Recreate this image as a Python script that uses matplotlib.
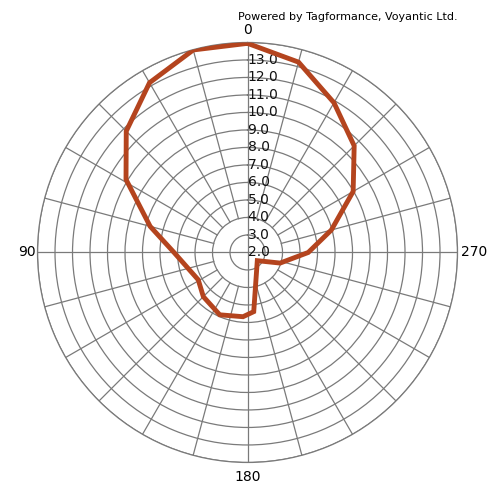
import numpy as np
import matplotlib.pyplot as plt

# 读数: 角度(度, 逆时针, 0在上方) 和 半径
angles = [0, 15, 30, 45, 59, 75, 90, 119, 135, 156, 176, 186, 230, 252, 270, 285, 300, 315, 330, 345, 360]
radius = [13.95, 13.98, 13.2, 11.8, 10.1, 7.76, 6.2, 5.22, 5.57, 5.9, 5.68, 5.4, 2.73, 3.96, 5.47, 6.96, 8.97, 10.62, 11.88, 13.26, 13.95]
r_ticks = [2, 3, 4, 5, 6, 7, 8, 9, 10, 11, 12, 13]
r_min, r_max = 2, 14

fig = plt.figure(figsize=(4.91, 4.88), dpi=100)
ax = fig.add_axes([0.0764, 0.0523, 0.8554, 0.8607], projection='polar')
ax.set_theta_zero_location('N')
ax.set_theta_direction(1)
ax.set_ylim(r_min, r_max)

ax.set_yticks(range(3, 15))
ax.set_yticklabels([])
ax.set_xticks(np.deg2rad([0, 90, 180, 270]))
ax.set_xticklabels([])
ax.grid(True, color='#7a7a7a', lw=0.9)
ax.spines['polar'].set_color('#7a7a7a')
ax.spines['polar'].set_linewidth(0.9)

# 其余辐射线从 4.0 圆开始
for a in range(15, 360, 15):
    if a % 90 == 0:
        continue
    ax.plot([np.deg2rad(a)] * 2, [4, r_max], color='#7a7a7a', lw=0.9, zorder=1)

ax.plot(np.deg2rad(angles), radius, color='#b4441e', lw=3.5, solid_joinstyle='miter', zorder=5)

for r in r_ticks:
    ax.text(0, r, '%.1f' % r, ha='left', va='center', fontsize=10, color='#111111', zorder=3)

# 方向标签
fig.text(247.5/491, 1-30/488, '0', ha='center', va='center', fontsize=10)
fig.text(36/491, 1-252/488, '90', ha='right', va='center', fontsize=10)
fig.text(461/491, 1-252/488, '270', ha='left', va='center', fontsize=10)
fig.text(247.5/491, 1-477/488, '180', ha='center', va='center', fontsize=10)
fig.text(348/491, 1-17/488, 'Powered by Tagformance, Voyantic Ltd.', ha='center', va='center', fontsize=8)

fig.savefig('out.png', dpi=100)
